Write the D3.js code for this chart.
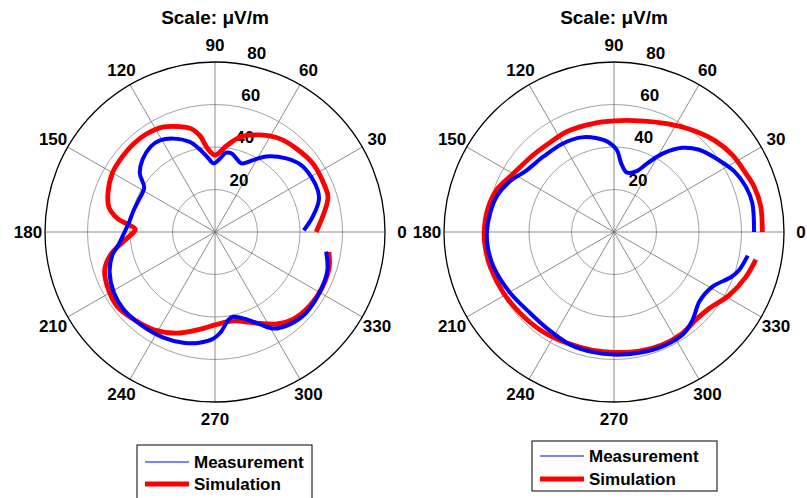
<!DOCTYPE html>
<html>
<head>
<meta charset="utf-8">
<script src="https://cdn.jsdelivr.net/npm/d3@7"></script>
<style>
  body { margin: 0; background: #fff; }
  text { font-family: Arial, "Liberation Sans", sans-serif; font-weight: bold; fill: #000; }
</style>
</head>
<body>
<script>
(function () {
	"use strict";

	let w = 807;
	let h = 498;

	// angle (deg) / value (uV/m)
	const leftMeasAngle = [1, 9, 17, 22, 30, 38, 46, 56, 62, 69, 74, 78, 82, 86, 91, 96, 101, 106, 114, 121, 127, 135, 142, 148, 157, 165, 174, 181, 187, 193, 201, 211, 220, 231, 244, 254, 262, 269, 273, 279, 282, 290, 296, 301, 309, 318, 330, 341, 350];
	const leftMeasValue = [41.8, 46.6, 51.1, 52.2, 52.2, 51.3, 48.2, 42.9, 38.3, 34.6, 36.1, 37.8, 37.7, 34.7, 32.3, 35.6, 40.1, 44.2, 48.1, 50.3, 50.3, 48.2, 44.9, 39.3, 38.9, 39.6, 40.8, 42.9, 45.5, 49.7, 53.1, 55.5, 56.3, 55.9, 55.3, 54.2, 52.6, 50.2, 47.5, 41.6, 40.8, 43.8, 48.3, 53.0, 55.9, 57.3, 56.9, 55.9, 53.1];

	const leftSimAngle = [0, 17, 23, 35, 46, 55, 65, 75, 82, 90, 95, 99, 103, 108, 116, 125, 133, 141, 150, 160, 167, 172, 178, 180, 185, 192, 199, 207, 217, 227, 238, 249, 261, 271, 282, 293, 304, 312, 322, 333, 343, 350];
	const leftSimValue = [47.6, 55.6, 56.0, 56.2, 54.8, 53.5, 50.4, 46.3, 41.2, 36.2, 39.4, 46.0, 49.9, 52.1, 55.0, 56.3, 56.5, 56.2, 55.7, 53.6, 51.2, 46.5, 37.5, 38.2, 42.3, 50.0, 54.9, 56.8, 57.8, 56.2, 54.2, 51.0, 46.4, 43.5, 42.8, 46.4, 52.2, 55.1, 56.5, 56.8, 56.2, 54.4];

	const rightMeasAngle = [0, 12, 19, 27, 34, 44, 51, 58, 64, 70, 78, 84, 88, 94, 101, 109, 120, 133, 145, 154, 163, 171, 180, 187, 196, 210, 224, 235, 249, 260, 270, 282, 293, 304, 312, 321, 331, 339, 343, 350];
	const rightMeasValue = [65.9, 66.5, 65.6, 63.3, 60.0, 55.7, 51.0, 43.6, 36.1, 30.3, 28.7, 32.5, 38.6, 42.6, 45.1, 47.1, 48.1, 48.6, 50.4, 54.4, 57.6, 58.9, 59.8, 59.8, 59.0, 56.7, 54.9, 55.2, 56.9, 57.4, 57.7, 58.1, 58.5, 58.1, 55.4, 51.8, 53.0, 59.1, 61.5, 63.9];

	const rightSimAngle = [0, 10, 18, 24, 33, 42, 52, 64, 77, 90, 101, 115, 128, 136, 150, 160, 169, 180, 187, 196, 209, 221, 233, 247, 260, 270, 282, 293, 304, 313, 321, 331, 341, 349];
	const rightSimValue = [69.8, 70.1, 69.3, 67.9, 66.5, 64.1, 60.6, 56.7, 53.7, 52.3, 52.0, 52.2, 51.8, 52.5, 54.8, 58.6, 60.3, 61.1, 61.0, 60.5, 59.4, 58.4, 57.7, 56.8, 56.5, 56.6, 57.3, 57.7, 57.5, 56.5, 57.4, 61.7, 65.5, 68.0];

	const angleTicks = [0, 30, 60, 90, 120, 150, 180, 210, 240, 270, 300, 330];
	const ringTicks = [20, 40, 60];
	const radiusLabels = [20, 40, 60, 80];
	const rMax = 80;

	const seriesNames = ['Measurement', 'Simulation'];
	const seriesColors = ['#0000ff', '#ff0000'];

	let svg = d3.select('body').append('svg').attr('width', w).attr('height', h);

	const R = 170;
	let r = d3.scaleLinear().domain([0, rMax]).range([0, R]);
	const toRad = (deg) => (90 - deg) * Math.PI / 180; // d3 radial: 0 at top, clockwise

	function pairs(a, v) {
		return a.map((d, i) => [d, v[i]]);
	}

	let line = d3.lineRadial()
		.angle((d) => toRad(d[0]))
		.radius((d) => r(d[1]))
		.curve(d3.curveCatmullRom);

	function drawPanel(cx, cy, meas, sim, legend) {
		let g = svg.append('g').attr('transform', 'translate(' + cx + ',' + cy + ')');

		g.selectAll('circle.ring')
			.data(ringTicks)
			.enter()
			.append('circle')
			.attr('r', (d) => r(d))
			.attr('fill', 'none')
			.attr('stroke', '#8a8a8a')
			.attr('stroke-width', 0.8);

		g.selectAll('line.spoke')
			.data(angleTicks.filter((d) => d < 180))
			.enter()
			.append('line')
			.attr('x1', (d) => r(rMax) * Math.cos(d * Math.PI / 180))
			.attr('y1', (d) => -r(rMax) * Math.sin(d * Math.PI / 180))
			.attr('x2', (d) => -r(rMax) * Math.cos(d * Math.PI / 180))
			.attr('y2', (d) => r(rMax) * Math.sin(d * Math.PI / 180))
			.attr('stroke', '#6e6e6e')
			.attr('stroke-width', 0.8);

		g.append('circle')
			.attr('r', r(rMax))
			.attr('fill', 'none')
			.attr('stroke', '#000')
			.attr('stroke-width', 1.3);

		g.selectAll('text.ang')
			.data(angleTicks)
			.enter()
			.append('text')
			.attr('x', (d) => 1.1 * r(rMax) * Math.cos(d * Math.PI / 180))
			.attr('y', (d) => -1.1 * r(rMax) * Math.sin(d * Math.PI / 180))
			.attr('text-anchor', 'middle')
			.attr('dy', '0.36em')
			.style('font-size', '17px')
			.text((d) => d);

		let a82 = 82 * Math.PI / 180;
		g.selectAll('text.rad')
			.data(radiusLabels)
			.enter()
			.append('text')
			.attr('x', (d) => r(d) * Math.cos(a82) + 18)
			.attr('y', (d) => -r(d) * Math.sin(a82) - 10.5)
			.attr('text-anchor', 'middle')
			.attr('dy', '0.36em')
			.style('font-size', '17px')
			.text((d) => d);

		g.append('path')
			.datum(sim)
			.attr('d', line)
			.attr('fill', 'none')
			.attr('stroke', seriesColors[1])
			.attr('stroke-width', 4.8)
			.attr('stroke-linejoin', 'round');

		g.append('path')
			.datum(meas)
			.attr('d', line)
			.attr('fill', 'none')
			.attr('stroke', seriesColors[0])
			.attr('stroke-width', 4)
			.attr('stroke-linejoin', 'round');

		svg.append('text')
			.attr('x', cx)
			.attr('y', 17)
			.attr('text-anchor', 'middle')
			.attr('dy', '0.36em')
			.style('font-size', '19px')
			.text('Scale: \u03bcV/m');

		// legend
		let lg = svg.append('g').attr('transform', 'translate(' + legend.x + ',' + legend.y + ')');
		lg.append('rect')
			.attr('width', legend.w)
			.attr('height', legend.h)
			.attr('fill', '#fff')
			.attr('stroke', '#000')
			.attr('stroke-width', 1);
		seriesNames.forEach(function (name, i) {
			let yy = legend.row0 + i * legend.step;
			lg.append('line')
				.attr('x1', 8).attr('x2', 52)
				.attr('y1', yy).attr('y2', yy)
				.attr('stroke', seriesColors[i])
				.attr('stroke-width', i === 0 ? 1.2 : 5);
			lg.append('text')
				.attr('x', 57)
				.attr('y', yy)
				.attr('dy', '0.36em')
				.style('font-size', '17px')
				.text(name);
		});
	}

	drawPanel(215, 232, pairs(leftMeasAngle, leftMeasValue), pairs(leftSimAngle, leftSimValue),
		{ x: 137, y: 445, w: 175, h: 60, row0: 17, step: 22 });
	drawPanel(614, 232, pairs(rightMeasAngle, rightMeasValue), pairs(rightSimAngle, rightSimValue),
		{ x: 532, y: 441, w: 185, h: 50, row0: 15, step: 23 });

})();
</script>
</body>
</html>
